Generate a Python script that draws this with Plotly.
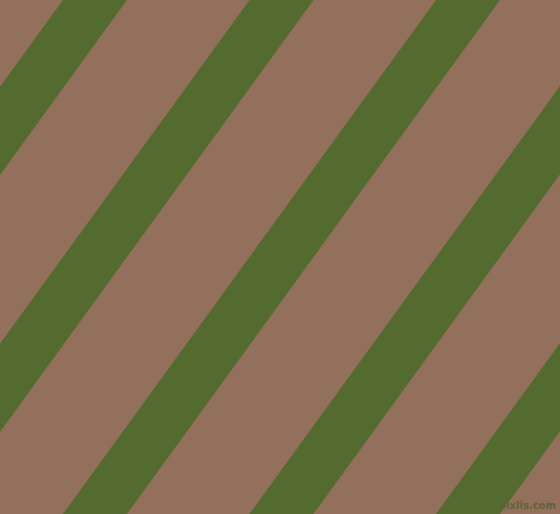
"""Diagonal stripe pattern: olive stripes on a brown ground, drawn as filled polygons."""

import plotly.graph_objects as go

W, H = 560, 514

# where each stripe's left edge meets the top of the picture (px)
stripe_starts = [63, 249.5, 436, 622.5, 809]
stripe_width = 64          # horizontal width of one stripe (px)
stripe_slope = 0.7257      # x drift per px down (stripes lean "/")

background = "#93705b"
stripe_color = "#546b2f"
watermark = "pixlis.com"

fig = go.Figure()

for a in stripe_starts:
    shift = stripe_slope * H
    xs = [a, a + stripe_width, a + stripe_width - shift, a - shift, a]
    ys = [0, 0, H, H, 0]
    fig.add_trace(go.Scatter(
        x=xs, y=ys,
        mode="lines",
        fill="toself",
        fillcolor=stripe_color,
        line=dict(width=0, color=stripe_color),
        hoverinfo="skip",
        showlegend=False,
    ))

fig.add_annotation(
    x=W - 3, y=H - 2,
    xanchor="right", yanchor="bottom",
    text="<b>%s</b>" % watermark,
    showarrow=False,
    borderpad=0,
    font=dict(family="DejaVu Sans", size=10, color="#5f6535"),
)

fig.update_layout(
    width=W, height=H,
    margin=dict(l=0, r=0, t=0, b=0),
    paper_bgcolor=background,
    plot_bgcolor=background,
    xaxis=dict(range=[0, W], visible=False, fixedrange=True),
    yaxis=dict(range=[H, 0], visible=False, fixedrange=True),
)

# page body has a default margin; drop it so the pattern fills the window
fig.write_html("out.html", config={"displayModeBar": False},
               post_script="document.body.style.margin='0';document.body.style.overflow='hidden';")
